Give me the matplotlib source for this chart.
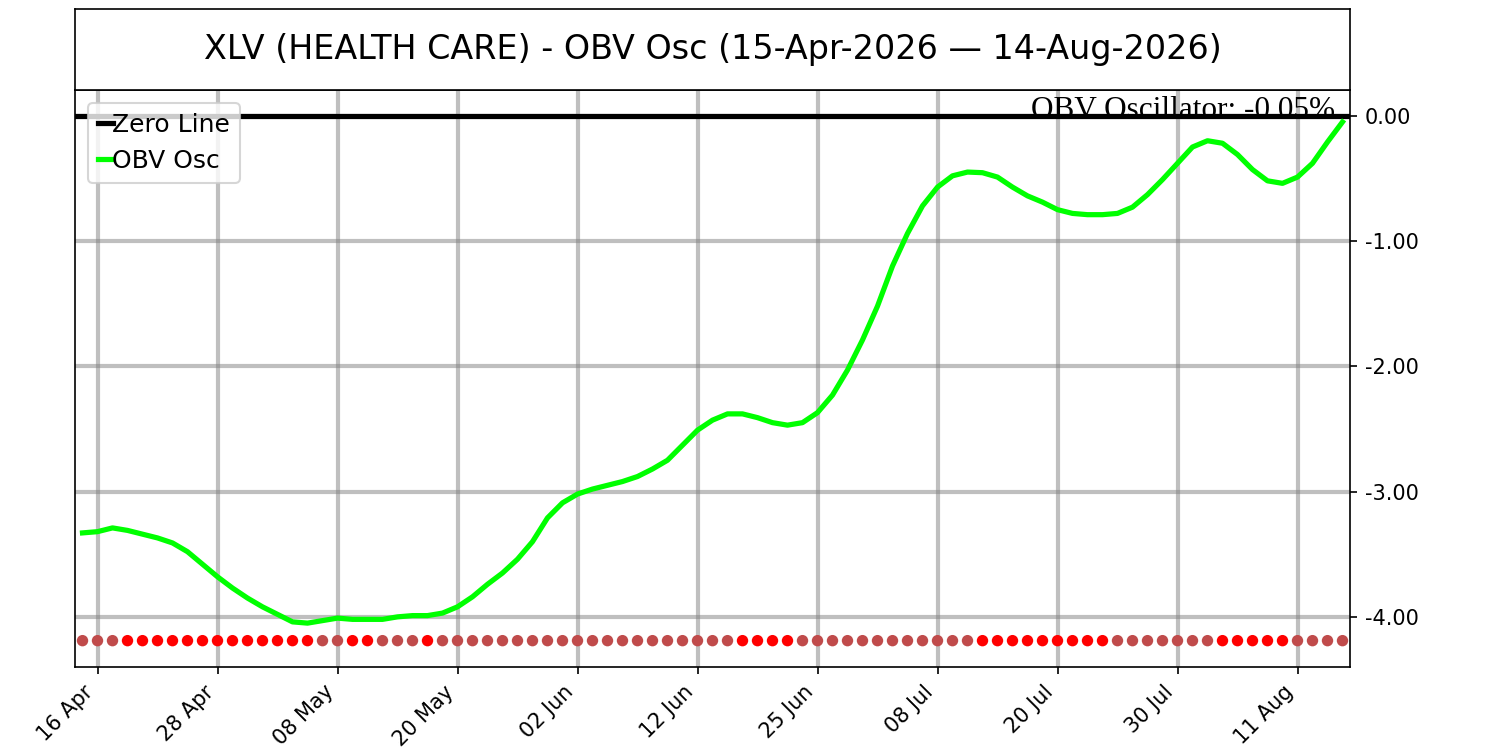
import matplotlib
matplotlib.use("Agg")
import matplotlib.pyplot as plt
import numpy as np
import pandas as pd
from matplotlib.ticker import FormatStrFormatter

# ---------------- data ----------------
title_text = "XLV (HEALTH CARE) - OBV Osc (15-Apr-2026 \u2014 14-Aug-2026)"
start_date = "2026-04-15"
end_date = "2026-08-14"
holidays = ["2026-05-25", "2026-06-19", "2026-07-03"]

obv_osc = [
    -3.33, -3.32, -3.29, -3.31, -3.34, -3.37, -3.41, -3.48, -3.58, -3.68,
    -3.77, -3.85, -3.92, -3.98, -4.04, -4.05, -4.03, -4.01, -4.02, -4.02,
    -4.02, -4.00, -3.99, -3.99, -3.97, -3.92, -3.84, -3.74, -3.65, -3.54,
    -3.40, -3.21, -3.09, -3.02, -2.98, -2.95, -2.92, -2.88, -2.82, -2.75,
    -2.63, -2.51, -2.43, -2.38, -2.38, -2.41, -2.45, -2.47, -2.45, -2.37,
    -2.23, -2.03, -1.79, -1.52, -1.20, -0.94, -0.72, -0.57, -0.48, -0.45,
    -0.455, -0.49, -0.57, -0.64, -0.69, -0.75, -0.78, -0.79, -0.79, -0.78,
    -0.73, -0.63, -0.51, -0.38, -0.25, -0.20, -0.22, -0.31, -0.43, -0.52,
    -0.54, -0.49, -0.38, -0.21, -0.05,
]
dot_codes = ("BBB" + "R" * 13 + "BB" + "RR" + "BBB" + "R" + "B" * 20 + "R" * 4
             + "B" * 12 + "R" * 9 + "B" * 7 + "R" * 5 + "B" * 4)
dot_level = -4.19
current_label = "OBV Oscillator: -0.05%"

# ---------------- build ----------------
dates = pd.bdate_range(start_date, end_date, freq="C", holidays=holidays)
x = np.arange(len(obv_osc))
color_map = {"R": "#ff0000", "B": "#c04b4b"}
dot_colors = [color_map[c] for c in dot_codes]

fig = plt.figure(figsize=(10, 5), dpi=150)
ax = fig.add_axes([0.05, 0.1107, 0.85, 0.7693])
tax = fig.add_axes([0.05, 0.88, 0.85, 0.108])

# title box
tax.set_xticks([])
tax.set_yticks([])
tax.text(0.5, 0.5, title_text, ha="center", va="center", fontsize=16,
         transform=tax.transAxes)

# grid
ax.grid(True, color="gray", alpha=0.5, linewidth=2)
ax.set_axisbelow(True)

ax.text(0.988, 0.951, current_label, ha="right", va="baseline",
        transform=ax.transAxes, fontsize=15, family="Liberation Serif",
        zorder=1)
ax.axhline(0, color="black", linewidth=2.5, label="Zero Line", zorder=3)
ax.plot(x, obv_osc, color="#00ff00", linewidth=2.5, label="OBV Osc", zorder=4)
ax.scatter(x, [dot_level] * len(x), c=dot_colors, s=30, zorder=5,
           linewidths=0)

ax.set_xlim(-0.5, 84.5)
ax.set_ylim(-4.40, 0.205)
ax.yaxis.tick_right()
ax.set_yticks([0, -1, -2, -3, -4])
ax.yaxis.set_major_formatter(FormatStrFormatter("%.2f"))

tick_idx = list(range(1, len(x), 8))
ax.set_xticks(tick_idx)
ax.set_xticklabels([dates[i].strftime("%d %b") for i in tick_idx],
                   rotation=45, ha="right")
ax.tick_params(labelsize=10)

ax.legend(loc="upper left", fontsize=12, handlelength=0.6,
          handletextpad=0.0)

fig.savefig("out.png", dpi=150)
